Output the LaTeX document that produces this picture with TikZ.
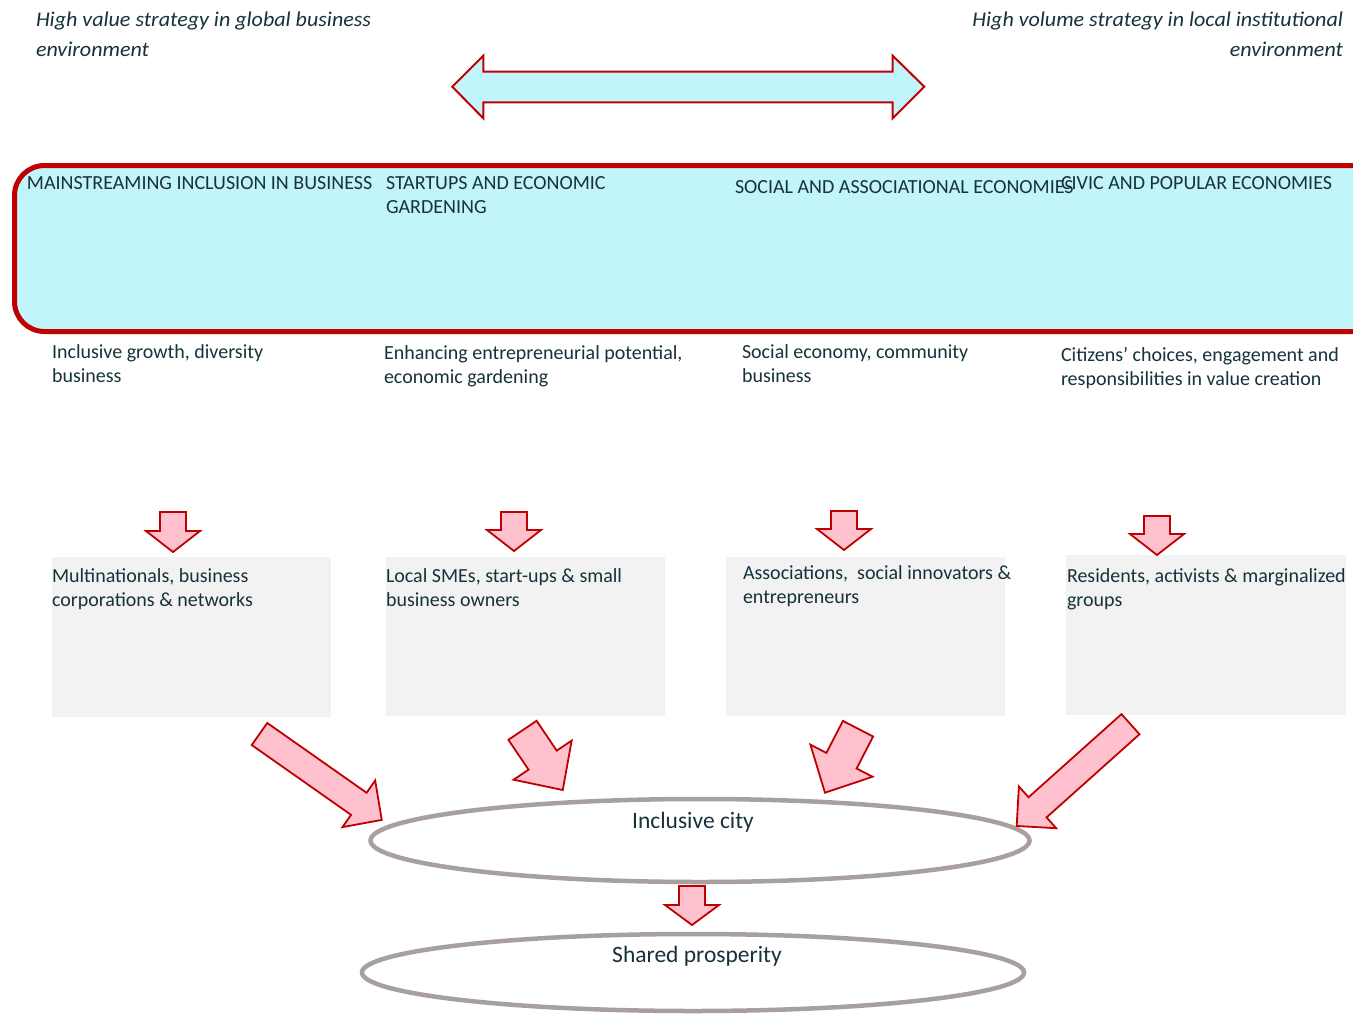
\documentclass[tikz,border=0pt]{standalone}
\usepackage{fontspec}
\setmainfont{Carlito}
\newfontfamily\topfont{Carlito}[FakeStretch=1.05]
\usetikzlibrary{shapes.geometric}
\definecolor{txt}{HTML}{17323A}
\definecolor{cy}{HTML}{C2F4FC}
\definecolor{rd}{HTML}{C00000}
\definecolor{pk}{HTML}{FFC1CE}
\definecolor{gb}{HTML}{F2F2F2}
\definecolor{eg}{HTML}{A7A09E}
\newcommand\st{\rule{0pt}{16pt}}
\newcommand\blockarr[7]{% x, y, angle, length, shaft width, head width, head length
  \begin{scope}[shift={(#1,#2)},rotate=-#3]
    \draw[barrow] (0,{-#5/2}) -- ({#4-#7},{-#5/2}) -- ({#4-#7},{-#6/2}) -- (#4,0)
      -- ({#4-#7},{#6/2}) -- ({#4-#7},{#5/2}) -- (0,{#5/2}) -- cycle;
  \end{scope}}
\tikzset{
  barrow/.style={draw=rd, fill=pk, line width=1.8, line join=miter},
  txtn/.style={inner sep=0, outer sep=0, text=txt, align=left, anchor=north west,
    font=\fontsize{20}{24}\selectfont},
  toptxt/.style={inner sep=0, outer sep=0, text=txt, font=\topfont\fontsize{21}{29.5}\selectfont\itshape},
  gbox/.style={fill=gb, inner sep=0, anchor=north west},
  ell/.style={ellipse, draw=eg, line width=4.5, inner sep=0},
  elltxt/.style={inner sep=0, text=txt, anchor=base, font=\fontsize{23.5}{28}\selectfont}
}
\begin{document}
\begin{tikzpicture}[x=1pt,y=-1pt]
\clip (0,0) rectangle (1353,1013);
\fill[white] (0,0) rectangle (1353,1013);

% top texts
\node[toptxt, anchor=north west, align=left] (tl) at (36,10.7) {\st High value strategy in global business\\environment};
\node[toptxt, anchor=north east, align=right] (tr) at (1343,10.7) {\st High volume strategy in local institutional\\environment};

% double arrow
\draw[draw=rd, fill=cy, line width=2, line join=miter]
  (452.3,86.7) -- (483.3,55.7) -- (483.3,71.7) -- (892.7,71.7) -- (892.7,55.7) -- (924.3,86.7)
  -- (892.7,118.3) -- (892.7,102.3) -- (483.3,102.3) -- (483.3,118.3) -- cycle;

% band
\node[draw=rd, fill=cy, line width=5, rounded corners=30, inner sep=0, anchor=north west,
  minimum width=1373, minimum height=166] (band) at (12,163) {};

\node[txtn] (h1) at (27,173.3) {\st MAINSTREAMING INCLUSION IN BUSINESS};
\node[txtn] (h2) at (386,173.3) {\st STARTUPS AND ECONOMIC\\GARDENING};
\node[txtn] (h3) at (735,177) {\st SOCIAL AND ASSOCIATIONAL ECONOMIES};
\node[txtn] (h4) at (1061,173.3) {\st CIVIC AND POPULAR ECONOMIES};

% descriptions
\node[txtn] (d1) at (52,342.3) {\st Inclusive growth, diversity\\business};
\node[txtn] (d2) at (384,343) {\st Enhancing entrepreneurial potential,\\economic gardening};
\node[txtn] (d3) at (742,342) {\st Social economy, community\\business};
\node[txtn] (d4) at (1061,345.7) {\st Citizens’ choices, engagement and\\responsibilities in value creation};

% grey boxes
\node[gbox, minimum width=279, minimum height=160] (b1) at (52,557) {};
\node[gbox, minimum width=279, minimum height=159] (b2) at (386,557) {};
\node[gbox, minimum width=279, minimum height=159] (b3) at (726,557) {};
\node[gbox, minimum width=280, minimum height=160] (b4) at (1066,555) {};

\node[txtn] (t1) at (52,566) {\st Multinationals, business\\corporations \& networks};
\node[txtn] (t2) at (386,566) {\st Local SMEs, start-ups \& small\\business owners};
\node[txtn] (t3) at (743,563) {\st Associations,~ social innovators \&\\entrepreneurs};
\node[txtn] (t4) at (1067,566) {\st Residents, activists \& marginalized\\groups};

% small down arrows
\blockarr{173}{512}{90}{40}{26}{54}{21}
\blockarr{514}{512}{90}{39}{26}{54}{21}
\blockarr{844}{511}{90}{39}{26}{54}{21}
\blockarr{1157}{516}{90}{39}{26}{54}{21}

% ellipses
\node[ell, minimum width=659, minimum height=83] (city) at (700,840.5) {};
\node[elltxt] (cityt) at (693,828.3) {Inclusive city};
\node[ell, minimum width=662, minimum height=77] (prosp) at (693,972.5) {};
\node[elltxt] (prospt) at (697,962.5) {Shared prosperity};

% big arrows
\blockarr{259.5}{734}{35.1}{149.4}{27}{57}{28}
\blockarr{522.5}{730.3}{56}{72}{34}{70}{36}
\blockarr{858}{728.7}{117.3}{72}{34}{70}{36}
\blockarr{1130.5}{724.2}{138.2}{152.7}{27}{56}{28}

% arrow between ellipses
\blockarr{692}{886}{90}{39}{26}{54}{20}
\end{tikzpicture}
\end{document}
